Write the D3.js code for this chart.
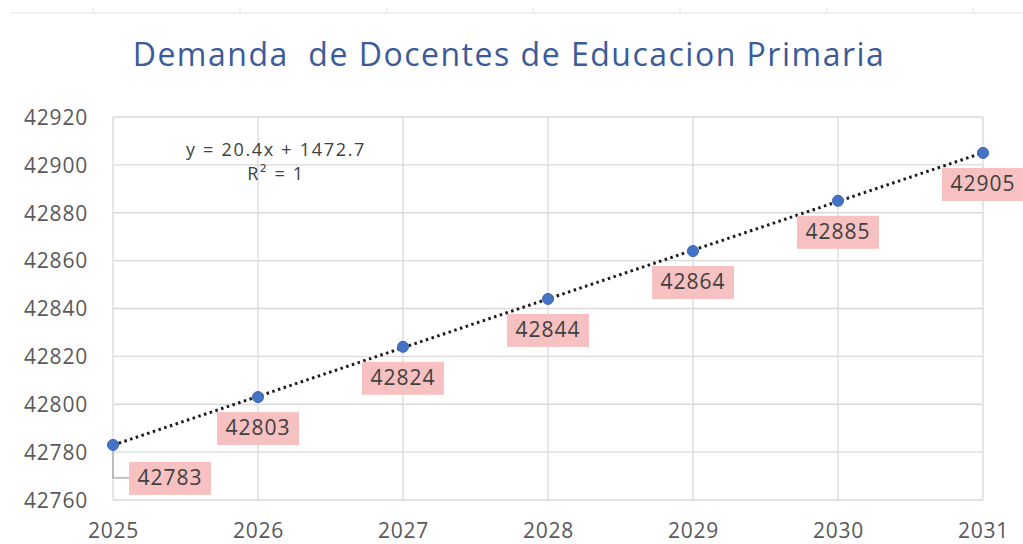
<!DOCTYPE html>
<html>
<head>
<meta charset="utf-8">
<script src="https://cdn.jsdelivr.net/npm/d3@7"></script>
<style>
  body { margin: 0; background: #fff; }
  svg { display: block; font-family: "Open Sans", "Noto Sans", sans-serif; }
</style>
</head>
<body>
<svg id="chart" width="1023" height="544"></svg>
<script>
    // chart data
    var years = [2025, 2026, 2027, 2028, 2029, 2030, 2031];
    var demand = [42783, 42803, 42824, 42844, 42864, 42885, 42905];
    var yTicks = [42760, 42780, 42800, 42820, 42840, 42860, 42880, 42900, 42920];
    var titleText = "Demanda  de Docentes de Educacion Primaria";
    var equationLines = ["y = 20.4x + 1472.7", "R\u00b2 = 1"];

    var svg = d3.select("#chart");
    var margin = {left: 113, right: 40, top: 117, bottom: 44};
    var width = 1023, height = 544;

    var x = d3.scaleLinear().domain([2025, 2031]).range([margin.left, width - margin.right]);
    var y = d3.scaleLinear().domain([42760, 42920]).range([height - margin.bottom, margin.top]);

    var gridColor = "#d9d9d9";

    /*
    spreadsheet column border at the top of the screenshot
     */
    svg.append("line")
        .attr("x1", 10).attr("x2", width).attr("y1", 13).attr("y2", 13)
        .attr("stroke", "#e3e3e3").attr("stroke-width", 1);
    [93, 240, 387, 533, 680, 827, 973].forEach(function(cx) {
        svg.append("line")
            .attr("x1", cx).attr("x2", cx).attr("y1", 8).attr("y2", 13)
            .attr("stroke", "#e3e3e3");
    });

    // title
    svg.append("text")
        .attr("x", 509).attr("y", 66)
        .attr("text-anchor", "middle")
        .attr("fill", "#3b5b9a")
        .style("font-size", "32px")
        .style("letter-spacing", "1.5px")
        .style("white-space", "pre")
        .text(titleText);

    // horizontal grid
    svg.append("g")
        .selectAll("line")
        .data(yTicks)
        .enter().append("line")
        .attr("x1", x(2025)).attr("x2", x(2031))
        .attr("y1", function(d) { return y(d); })
        .attr("y2", function(d) { return y(d); })
        .attr("stroke", gridColor).attr("stroke-width", 1.3);

    // vertical grid
    svg.append("g")
        .selectAll("line")
        .data(years)
        .enter().append("line")
        .attr("x1", function(d) { return x(d); })
        .attr("x2", function(d) { return x(d); })
        .attr("y1", y(42920)).attr("y2", y(42760))
        .attr("stroke", gridColor).attr("stroke-width", 1.3);

    // axes, only labels
    var yAxis = svg.append("g")
        .attr("transform", "translate(" + (margin.left - 25) + ",0)")
        .call(d3.axisLeft(y).tickValues(yTicks).tickSize(0).tickPadding(0).tickFormat(d3.format("d")));
    var xAxis = svg.append("g")
        .attr("transform", "translate(0," + (height - margin.bottom + 13) + ")")
        .call(d3.axisBottom(x).tickValues(years).tickSize(0).tickPadding(10).tickFormat(d3.format("d")));
    [yAxis, xAxis].forEach(function(a) {
        a.select(".domain").remove();
        a.selectAll("text")
            .attr("fill", "#595959")
            .style("font-size", "21px")
            .style("letter-spacing", "0.8px")
            .style("font-family", "'Open Sans', sans-serif");
    });
    yAxis.selectAll("text").attr("dy", "0.35em");

    // linear trendline (least squares over the data)
    var n = years.length;
    var mx = d3.mean(years), my = d3.mean(demand);
    var slope = d3.sum(years, function(d, i) { return (d - mx) * (demand[i] - my); }) /
                d3.sum(years, function(d) { return (d - mx) * (d - mx); });
    var intercept = my - slope * mx;
    svg.append("line")
        .attr("x1", x(years[0])).attr("y1", y(intercept + slope * years[0]))
        .attr("x2", x(years[n - 1])).attr("y2", y(intercept + slope * years[n - 1]))
        .attr("stroke", "#1a1a1a")
        .attr("stroke-width", 3)
        .attr("stroke-dasharray", "2.5,3.5");

    // equation text
    svg.append("g").selectAll("text")
        .data(equationLines)
        .enter().append("text")
        .attr("x", 276)
        .attr("y", function(d, i) { return 156 + i * 24; })
        .attr("text-anchor", "middle")
        .attr("fill", "#404040")
        .style("font-size", "18px")
        .style("letter-spacing", "1.7px")
        .text(function(d) { return d; });

    // leader line for the first label
    svg.append("path")
        .attr("d", "M" + x(2025) + "," + (y(demand[0]) + 6) + "V" + (y(demand[0]) + 33) + "h16")
        .attr("fill", "none")
        .attr("stroke", "#a6a6a6")
        .attr("stroke-width", 1.3);

    // data labels
    var labels = svg.append("g").selectAll("g")
        .data(demand)
        .enter().append("g")
        .attr("transform", function(d, i) {
            var cx = x(years[i]) + (i === 0 ? 57 : 0);
            var cy = y(d) + (i === 0 ? 33 : 31);
            return "translate(" + cx + "," + cy + ")";
        });
    labels.append("rect")
        .attr("x", -41).attr("y", -16)
        .attr("width", 82).attr("height", 33)
        .attr("fill", "#f7c1c1");
    labels.append("text")
        .attr("text-anchor", "middle")
        .attr("dy", "0.35em")
        .attr("fill", "#404040")
        .style("font-size", "21px")
        .style("letter-spacing", "1px")
        .text(function(d) { return d; });

    // points
    svg.append("g").selectAll("circle")
        .data(demand)
        .enter().append("circle")
        .attr("cx", function(d, i) { return x(years[i]); })
        .attr("cy", function(d) { return y(d); })
        .attr("r", 5.5)
        .attr("fill", "#4472c4")
        .attr("stroke", "#3a64b0");
</script>
</body>
</html>
